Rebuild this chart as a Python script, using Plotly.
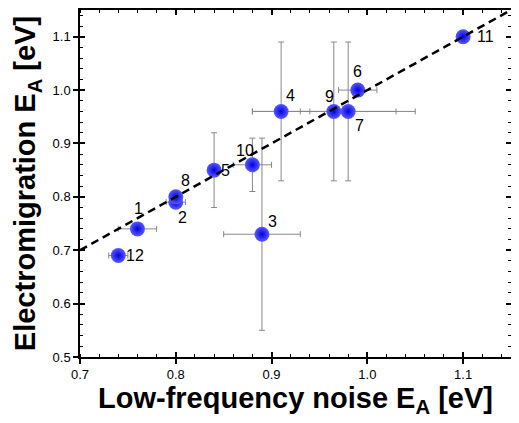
import plotly.graph_objects as go

# Data
labels = ["1", "2", "3", "4", "5", "6", "7", "8", "9", "10", "11", "12"]
noise_ea = [0.76, 0.80, 0.89, 0.91, 0.84, 0.99, 0.98, 0.80, 0.965, 0.88, 1.10, 0.74]
em_ea = [0.74, 0.79, 0.73, 0.96, 0.85, 1.00, 0.96, 0.80, 0.96, 0.86, 1.10, 0.69]
noise_err = [0.02, 0.01, 0.04, 0.03, 0.0, 0.02, 0.05, 0.0, 0.085, 0.02, 0.0, 0.01]
em_err = [0.0, 0.0, 0.18, 0.13, 0.07, 0.0, 0.13, 0.0, 0.13, 0.05, 0.0, 0.0]
fit_x = [0.70, 1.15]
fit_y = [0.70, 1.15]
x_ticks = [0.7, 0.8, 0.9, 1.0, 1.1]
y_ticks = [0.5, 0.6, 0.7, 0.8, 0.9, 1.0, 1.1]

# label offsets in pixels (dx, dy) -- styling only
label_dx = [1, 7, 11, 9, 11, 0, 11, 10, -4, -7, 22, 17]
label_dy = [-20, 15, -13, -16, 0, -19, 14, -16, -15, -14, 0, 0]

fig = go.Figure()

fig.add_trace(go.Scatter(
    x=noise_ea, y=em_ea, mode="markers",
    error_x=dict(type="data", array=noise_err, color="#888888", thickness=1, width=3),
    error_y=dict(type="data", array=em_err, color="#888888", thickness=1, width=3),
    marker=dict(size=15, color="#5a5aff", gradient=dict(type="radial", color="#0000e0"),
                line=dict(width=0)),
    showlegend=False, hoverinfo="skip",
))

fig.add_trace(go.Scatter(
    x=fit_x, y=fit_y, mode="lines", xaxis="x2", yaxis="y2",
    line=dict(color="black", width=2.5, dash="8px,5px"),
    showlegend=False, hoverinfo="skip",
))

for lab, xv, yv, dx, dy in zip(labels, noise_ea, em_ea, label_dx, label_dy):
    fig.add_annotation(x=xv, y=yv, text=lab, showarrow=False, xshift=dx, yshift=-dy,
                       font=dict(family="Arial, Liberation Sans", size=16, color="black"))

axis_common = dict(showgrid=False, zeroline=False, showline=True, linecolor="black",
                   linewidth=1.5, mirror="allticks", automargin=False)

fig.update_layout(
    width=511, height=415,
    margin=dict(l=72, r=8, t=2, b=66),
    plot_bgcolor="white", paper_bgcolor="white",
    font=dict(family="Arial, Liberation Sans", color="black"),
    xaxis=dict(range=[0.7, 1.15], tickvals=x_ticks, tickformat=".1f",
               ticks="outside", ticklen=5, tickwidth=1.5, tickcolor="black",
               minor=dict(dtick=0.02, ticks="inside", ticklen=3, tickwidth=1, tickcolor="black"),
               tickfont=dict(size=13),
               title=dict(text="<b>Low-frequency noise E<sub>A</sub> [eV]</b>",
                          font=dict(size=29), standoff=2),
               **axis_common),
    yaxis=dict(range=[0.5, 1.15], tickvals=y_ticks, tickformat=".1f",
               ticks="outside", ticklen=5, tickwidth=1.5, tickcolor="black",
               minor=dict(dtick=0.02, ticks="inside", ticklen=3, tickwidth=1, tickcolor="black"),
               tickfont=dict(size=13),
               title=dict(text="<b>Electromigration E<sub>A</sub> [eV]</b>",
                          font=dict(size=29), standoff=8),
               **axis_common),
    xaxis2=dict(range=[0.7, 1.15], overlaying="x", anchor="y2", tickvals=x_ticks,
                ticks="inside", ticklen=5, tickwidth=1.5, tickcolor="black",
                showticklabels=False, **axis_common),
    yaxis2=dict(range=[0.5, 1.15], overlaying="y", anchor="x2", tickvals=y_ticks,
                ticks="inside", ticklen=5, tickwidth=1.5, tickcolor="black",
                showticklabels=False, **axis_common),
)

fig.write_html("out.html")
